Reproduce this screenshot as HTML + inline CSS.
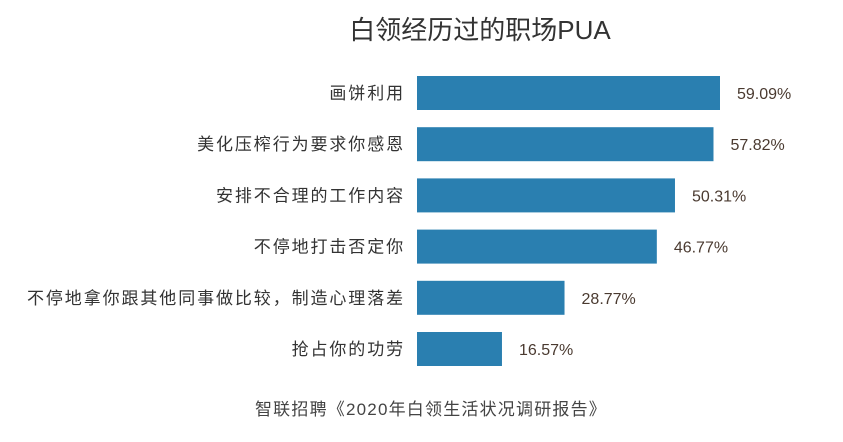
<!DOCTYPE html>
<html><head><meta charset="utf-8"><style>
body{margin:0;background:#fff;width:843px;height:442px;overflow:hidden;font-family:"Liberation Sans","Noto Sans CJK SC",sans-serif;}
svg{display:block}
</style></head><body>
<svg id="chart" width="843" height="442">
<text x="480" y="39" text-anchor="middle" font-size="26" fill="#333" font-family="Liberation Sans, Noto Sans CJK SC, sans-serif">白领经历过的职场PUA</text>
<text x="431" y="415" text-anchor="middle" font-size="17" letter-spacing="1.2" fill="#444" font-family="Liberation Sans, Noto Sans CJK SC, sans-serif">智联招聘《2020年白领生活状况调研报告》</text>
<g id="bars"></g>
</svg>
<script>
const categories=["画饼利用","美化压榨行为要求你感恩","安排不合理的工作内容","不停地打击否定你","不停地拿你跟其他同事做比较，制造心理落差","抢占你的功劳"];
const values=[59.09,57.82,50.31,46.77,28.77,16.57];
const x0=417, scale=303/59.09;
const xs=v=>x0+v*scale;
const ys=i=>76+i*51.2;
const bh=34;
const g=document.getElementById('bars');
const ns="http://www.w3.org/2000/svg";
categories.forEach((c,i)=>{
  const r=document.createElementNS(ns,'rect');
  r.setAttribute('x',x0);r.setAttribute('y',ys(i));
  r.setAttribute('width',xs(values[i])-x0);r.setAttribute('height',bh);
  r.setAttribute('fill','#2a7fb0');
  
  
  g.appendChild(r);
  const t=document.createElementNS(ns,'text');
  t.setAttribute('x',405);t.setAttribute('y',ys(i)+bh/2+6);
  t.setAttribute('text-anchor','end');t.setAttribute('font-size','17');t.setAttribute('letter-spacing','1.9');t.setAttribute('fill','#333');
  t.textContent=c;
  
  
  g.appendChild(t);
  const v=document.createElementNS(ns,'text');
  v.setAttribute('x',xs(values[i])+17);v.setAttribute('y',ys(i)+bh/2+6);
  v.setAttribute('font-size','16');v.setAttribute('fill','#4a3a30');
  v.textContent=values[i].toFixed(2)+'%';
  
  
  g.appendChild(v);
});
</script>
</body></html>
